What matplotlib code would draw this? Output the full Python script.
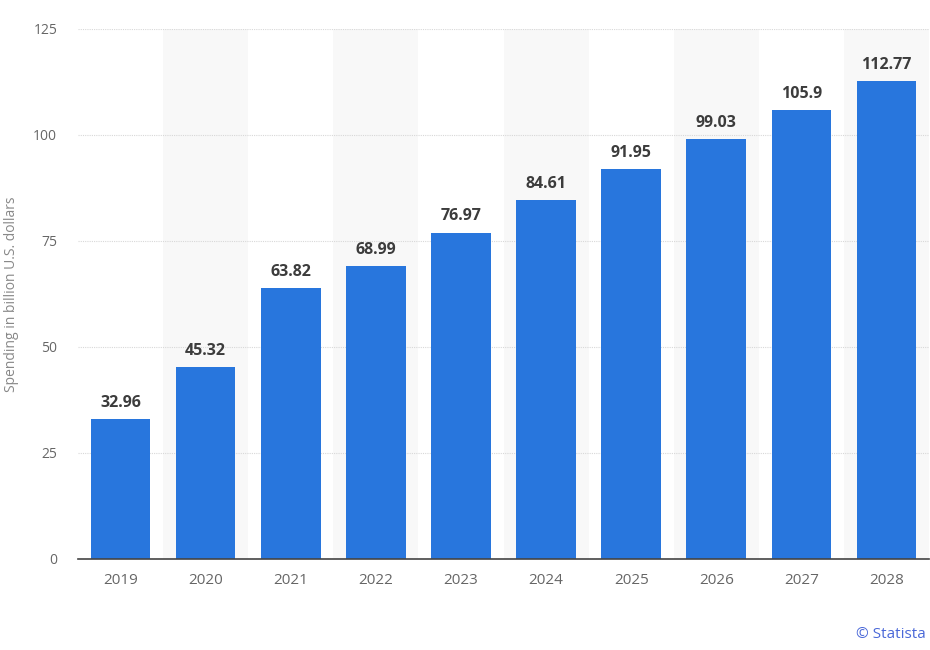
import numpy as np
import matplotlib.pyplot as plt

plt.rcParams['font.family'] = ['Open Sans', 'DejaVu Sans']

years = ['2019', '2020', '2021', '2022', '2023', '2024', '2025', '2026', '2027', '2028']
spending = [32.96, 45.32, 63.82, 68.99, 76.97, 84.61, 91.95, 99.03, 105.9, 112.77]
value_labels = ['32.96', '45.32', '63.82', '68.99', '76.97', '84.61', '91.95', '99.03', '105.9', '112.77']
y_ticks = [0, 25, 50, 75, 100, 125]


def main():
    fig = plt.figure(figsize=(9.3, 6.5), dpi=100)
    ax = fig.add_axes([0.0839, 0.14, 0.915, 0.8154])

    x = np.arange(len(years))

    # alternating shaded bands behind every other category
    for i in x:
        if i % 2 == 1:
            ax.axvspan(i - 0.5, i + 0.5, color='#f8f8f8', zorder=0, lw=0)

    bars = ax.bar(x, spending, width=0.7, color='#2876dd', zorder=3)

    for b, lab in zip(bars, value_labels):
        ax.annotate(lab, (b.get_x() + b.get_width() / 2, b.get_height()),
                    xytext=(0, 6), textcoords='offset points',
                    ha='center', va='bottom', fontsize=11.5, fontweight='bold',
                    color='#3c3c3c', zorder=4)

    ax.set_xlim(-0.5, len(years) - 0.5)
    ax.set_ylim(0, 125)
    ax.set_yticks(y_ticks)
    ax.set_xticks(x)
    ax.set_xticklabels(years)
    ax.yaxis.grid(True, linestyle=(0, (1, 1)), color='#d8d8d8', linewidth=0.8, zorder=1)
    ax.set_axisbelow(True)

    for side in ['top', 'right', 'left']:
        ax.spines[side].set_visible(False)
    ax.spines['bottom'].set_color('#444444')
    ax.spines['bottom'].set_linewidth(1.2)
    ax.spines['bottom'].set_zorder(5)

    ax.tick_params(axis='x', length=0, pad=10, labelsize=11, labelcolor='#666666')
    ax.tick_params(axis='y', length=0, pad=15, labelsize=10, labelcolor='#666666')

    ax.set_ylabel('Spending in billion U.S. dollars', fontsize=10, color='#888888')
    ax.yaxis.set_label_coords(-0.069, 0.5)

    fig.text(0.995, 0.012, '© Statista', ha='right', va='bottom', fontsize=11, color='#4a68d8')

    fig.savefig('out.png', dpi=100)


if __name__ == "__main__":
    main()
